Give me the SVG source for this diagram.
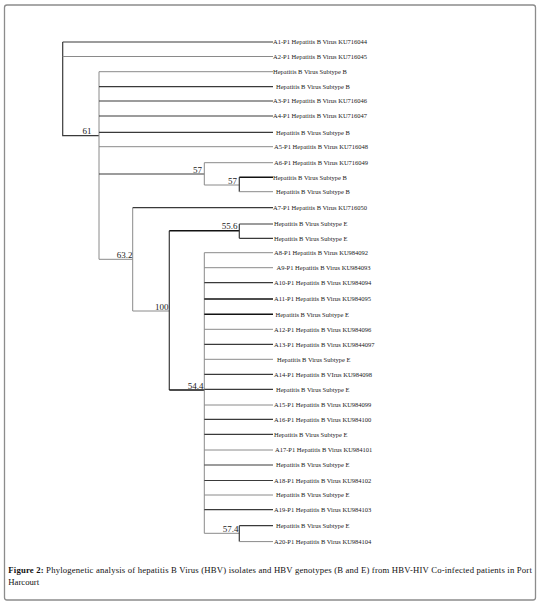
<svg xmlns="http://www.w3.org/2000/svg" width="540" height="606" viewBox="0 0 540 606">
<style>
.frame{fill:#fff;stroke:#8c8c8c;stroke-width:1.3}
.g{stroke:#8a8a8a;stroke-width:1;fill:none}
.d{stroke:#3a3a3a;stroke-width:1.2;fill:none}
.k{stroke:#111;stroke-width:1.4;fill:none}
.lf{font-family:"Liberation Serif","Times New Roman",serif;font-size:6.5px;fill:#222}
.bs{font-family:"Liberation Serif","Times New Roman",serif;font-size:9px;fill:#222}
.cap{font-family:"Liberation Serif","Times New Roman",serif;font-size:8.7px;fill:#111}
</style>
<rect class="frame" x="4.5" y="5" width="531" height="595" rx="2.5"/>
<g id="connectors">
<path class="d" d="M62.7 42V135.7H99"/>
<path class="d" d="M62.7 42H273"/>
<path class="g" d="M62.7 56.5H273"/>
<path class="g" d="M99 71.7V259.3"/>
<path class="g" d="M99 71.7H273"/>
<path class="d" d="M99 86.7H273"/>
<path class="d" d="M99 101H273"/>
<path class="d" d="M99 116H273"/>
<path class="d" d="M99 132.3H273"/>
<path class="g" d="M99 146.7H273"/>
<path class="d" d="M99 174H204.3"/>
<path class="g" d="M204.3 162.7V185H239.3"/>
<path class="g" d="M204.3 162.7H273"/>
<path class="d" d="M239.3 177.3V191.7"/>
<path class="k" d="M239.3 177.3H273"/>
<path class="g" d="M239.3 191.7H273"/>
<path class="g" d="M99 259.3H132.7"/>
<path class="g" d="M132.7 207.7V311"/>
<path class="d" d="M132.7 207.7H273"/>
<path class="g" d="M132.7 311H169.3"/>
<path class="d" d="M169.3 230.7V390"/>
<path class="k" d="M169.3 230.7H239.3"/>
<path class="d" d="M239.3 224V238.3"/>
<path class="d" d="M239.3 224H273"/>
<path class="d" d="M239.3 238.3H273"/>
<path class="k" d="M169.3 390H204.3"/>
<path class="g" d="M204.3 252.7V533.3H239.3"/>
<path class="g" d="M204.3 252.7H273"/>
<path class="g" d="M204.3 267.7H273"/>
<path class="d" d="M204.3 282.7H273"/>
<path class="k" d="M204.3 299H273"/>
<path class="k" d="M204.3 314.3H273"/>
<path class="g" d="M204.3 329.3H273"/>
<path class="d" d="M204.3 344.3H273"/>
<path class="g" d="M204.3 359.3H273"/>
<path class="d" d="M204.3 374.3H273"/>
<path class="d" d="M204.3 389.3H273"/>
<path class="g" d="M204.3 405H273"/>
<path class="d" d="M204.3 419.3H273"/>
<path class="d" d="M204.3 434.3H273"/>
<path class="g" d="M204.3 450H273"/>
<path class="d" d="M204.3 465H273"/>
<path class="d" d="M204.3 480.5H273"/>
<path class="g" d="M204.3 495H273"/>
<path class="d" d="M204.3 509.7H273"/>
<path class="d" d="M239.3 525.7V541.6"/>
<path class="d" d="M239.3 525.7H273"/>
<path class="g" d="M239.3 541.6H273"/>
</g>
<g id="n61"><text class="bs" x="82.5" y="134.3">61</text></g>
<g id="n57a"><text class="bs" x="193" y="172.7">57</text></g>
<g id="n57b"><text class="bs" x="228" y="183.8">57</text></g>
<g id="n63_2"><text class="bs" x="116.7" y="258">63.2</text></g>
<g id="n100"><text class="bs" x="155" y="309.7">100</text></g>
<g id="n55_6"><text class="bs" x="221.7" y="229.3">55.6</text></g>
<g id="n54_4"><text class="bs" x="187.7" y="388.7">54.4</text></g>
<g id="n57_4"><text class="bs" x="222.7" y="532">57.4</text></g>
<g id="leaf1"><text class="lf" x="273" y="44.4">A1-P1 Hepatitis B Virus KU716044</text></g>
<g id="leaf2"><text class="lf" x="273" y="58.9">A2-P1 Hepatitis B Virus KU716045</text></g>
<g id="leaf3"><text class="lf" x="273" y="74.1">Hepatitis B Virus Subtype B</text></g>
<g id="leaf4"><text class="lf" x="276" y="89.1">Hepatitis B Virus Subtype B</text></g>
<g id="leaf5"><text class="lf" x="273" y="103.4">A3-P1 Hepatitis B Virus KU716046</text></g>
<g id="leaf6"><text class="lf" x="273" y="118.4">A4-P1 Hepatitis B Virus KU716047</text></g>
<g id="leaf7"><text class="lf" x="276" y="134.7">Hepatitis B Virus Subtype B</text></g>
<g id="leaf8"><text class="lf" x="274" y="149.1">A5-P1 Hepatitis B Virus KU716048</text></g>
<g id="leaf9"><text class="lf" x="274" y="165.1">A6-P1 Hepatitis B Virus KU716049</text></g>
<g id="leaf10"><text class="lf" x="273" y="179.7">Hepatitis B Virus Subtype B</text></g>
<g id="leaf11"><text class="lf" x="276" y="194.1">Hepatitis B Virus Subtype B</text></g>
<g id="leaf12"><text class="lf" x="273" y="210.1">A7-P1 Hepatitis B Virus KU716050</text></g>
<g id="leaf13"><text class="lf" x="274" y="226.4">Hepatitis B Virus Subtype E</text></g>
<g id="leaf14"><text class="lf" x="274" y="240.7">Hepatitis B Virus Subtype E</text></g>
<g id="leaf15"><text class="lf" x="274" y="255.1">A8-P1 Hepatitis B Virus KU984092</text></g>
<g id="leaf16"><text class="lf" x="276.5" y="270.1">A9-P1 Hepatitis B Virus KU984093</text></g>
<g id="leaf17"><text class="lf" x="274" y="285.1">A10-P1 Hepatitis B Virus KU984094</text></g>
<g id="leaf18"><text class="lf" x="274" y="301.4">A11-P1 Hepatitis B Virus KU984095</text></g>
<g id="leaf19"><text class="lf" x="275.5" y="316.7">Hepatitis B Virus Subtype E</text></g>
<g id="leaf20"><text class="lf" x="274" y="331.7">A12-P1 Hepatitis B Virus KU984096</text></g>
<g id="leaf21"><text class="lf" x="274" y="346.7">A13-P1 Hepatitis B Virus KU9844097</text></g>
<g id="leaf22"><text class="lf" x="277" y="361.7">Hepatitis B Virus Subtype E</text></g>
<g id="leaf23"><text class="lf" x="274" y="376.7">A14-P1 Hepatitis B VIrus KU984098</text></g>
<g id="leaf24"><text class="lf" x="276" y="391.7">Hepatitis B Virus Subtype E</text></g>
<g id="leaf25"><text class="lf" x="274" y="407.4">A15-P1 Hepatitis B Virus KU984099</text></g>
<g id="leaf26"><text class="lf" x="274" y="421.7">A16-P1 Hepatitis B Virus KU984100</text></g>
<g id="leaf27"><text class="lf" x="274" y="436.7">Hepatitis B Virus Subtype E</text></g>
<g id="leaf28"><text class="lf" x="275" y="452.4">A17-P1 Hepatitis B Virus KU984101</text></g>
<g id="leaf29"><text class="lf" x="276" y="467.4">Hepatitis B Virus Subtype E</text></g>
<g id="leaf30"><text class="lf" x="274" y="482.9">A18-P1 Hepatitis B Virus KU984102</text></g>
<g id="leaf31"><text class="lf" x="276" y="497.4">Hepatitis B Virus Subtype E</text></g>
<g id="leaf32"><text class="lf" x="274" y="512.1">A19-P1 Hepatitis B Virus KU984103</text></g>
<g id="leaf33"><text class="lf" x="276" y="528.1">Hepatitis B Virus Subtype E</text></g>
<g id="leaf34"><text class="lf" x="274" y="544">A20-P1 Hepatitis B Virus KU984104</text></g>
<g id="caption">
<text class="cap" x="8.3" y="573.3" textLength="523.5" lengthAdjust="spacing"><tspan font-weight="bold">Figure 2:</tspan> Phylogenetic analysis of hepatitis B Virus (HBV) isolates and HBV genotypes (B and E) from HBV-HIV Co-infected patients in Port</text>
<text class="cap" x="8.3" y="584.5">Harcourt</text>
</g>
</svg>
